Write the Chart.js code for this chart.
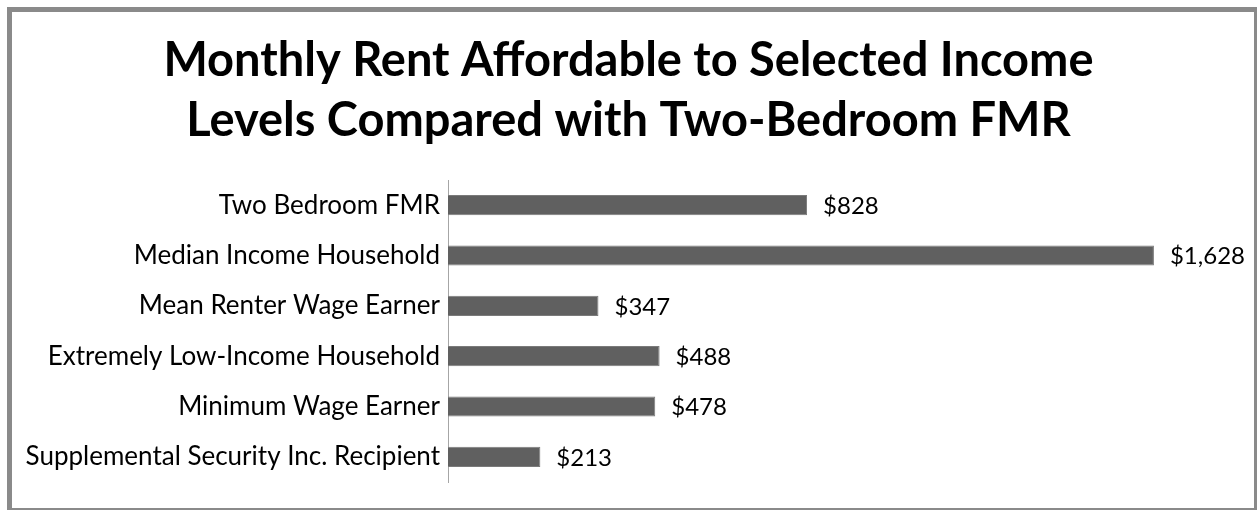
<!DOCTYPE html>
<html>
<head>
<meta charset="utf-8">
<script src="https://cdn.jsdelivr.net/npm/chart.js@4"></script>
<style>
	html, body { margin: 0; padding: 0; background: #fff; overflow: hidden; }
	#wrap { width: 1257px; height: 510px; }
</style>
</head>
<body>
<div id="wrap"><canvas id="rentChart" width="1257" height="510"></canvas></div>
<script>
// values
const categories = [
	"Two Bedroom FMR",
	"Median Income Household",
	"Mean Renter Wage Earner",
	"Extremely Low-Income Household",
	"Minimum Wage Earner",
	"Supplemental Security Inc. Recipient"
]
const rentValues = [828, 1628, 347, 488, 478, 213]
const titleLines = [
	"Monthly Rent Affordable to Selected Income",
	"Levels Compared with Two-Bedroom FMR"
]

const fontFamily = "Lato, 'Noto Sans', sans-serif"

// grey frame round the whole picture
const framePlugin = {
	id: 'frame',
	beforeDraw(chart) {
		const ctx = chart.ctx
		ctx.save()
		ctx.fillStyle = '#ffffff'
		ctx.fillRect(0, 0, chart.width, chart.height)
		ctx.strokeStyle = '#8a8a8a'
		ctx.lineWidth = 5
		ctx.strokeRect(9.5, 9.5, 1247, 501)
		ctx.restore()
	}
}

// dollar labels to the right of each bar
const valueLabels = {
	id: 'valueLabels',
	afterDatasetsDraw(chart) {
		const ctx = chart.ctx
		const meta = chart.getDatasetMeta(0)
		ctx.save()
		ctx.font = `24px ${fontFamily}`
		ctx.fillStyle = '#000'
		ctx.textAlign = 'left'
		ctx.textBaseline = 'middle'
		meta.data.forEach((bar, i) => {
			const v = chart.data.datasets[0].data[i]
			ctx.fillText('$' + v.toLocaleString('en-US'), bar.x + 16, bar.y + 1)
		})
		ctx.restore()
	}
}

const ctx = document.getElementById('rentChart').getContext('2d')
new Chart(ctx, {
	type: 'bar',
	data: {
		labels: categories,
		datasets: [
			{
				label: 'Monthly rent',
				data: rentValues,
				backgroundColor: '#606060',
				borderColor: '#7a7a7a',
				borderWidth: 1,
				barPercentage: 0.4,
				categoryPercentage: 1,
			},
		],
	},
	options: {
		indexAxis: 'y',
		responsive: false,
		animation: false,
		layout: {
			padding: { left: 12, right: 12, top: 12, bottom: 28 },
		},
		plugins: {
			legend: { display: false },
			tooltip: { enabled: false },
			title: {
				display: true,
				text: titleLines,
				color: '#000',
				font: { family: fontFamily, size: 47, weight: 'bold', lineHeight: 60 / 47 },
				padding: { top: 19, bottom: 29 },
			},
		},
		scales: {
			x: {
				display: false,
				min: 0,
				max: 1838,
			},
			y: {
				afterFit(scale) { scale.width = 436 },
				grid: { display: false, drawTicks: false },
				border: { display: true, color: '#a6a6a6', width: 1 },
				ticks: {
					color: '#000',
					padding: 8,
					font: { family: fontFamily, size: 26 },
				},
			},
		},
	},
	plugins: [framePlugin, valueLabels],
});
</script>
</body>
</html>
